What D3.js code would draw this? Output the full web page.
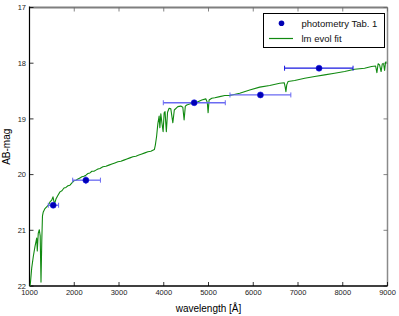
<!DOCTYPE html>
<html>
<head>
<meta charset="utf-8">
<script src="https://cdn.jsdelivr.net/npm/d3@7"></script>
<style>
  body { margin: 0; background: #fff; }
  svg { display: block; font-family: "Liberation Sans", Arial, sans-serif; }
</style>
</head>
<body>
<div class="chart"></div>
<script>
// model spectrum
var specWave = [1000, 1022, 1049, 1085, 1123, 1161, 1174, 1196, 1219, 1239, 1257, 1275, 1290, 1308, 1346,
  1420, 1458, 1496, 1525, 1558, 1591, 1636, 1681, 1725, 1770, 1815, 1859, 1904, 1949, 1993, 2038, 2083,
  2127, 2172, 2216, 2261, 2306, 2350, 2395, 2440, 2484, 2529, 2574, 2641, 2708, 2774, 2841, 2908, 2975,
  3042, 3109, 3176, 3243, 3310, 3377, 3444, 3511, 3578, 3645, 3712, 3790, 3812, 3839, 3868, 3897, 3913,
  3935, 3957, 3986, 4009, 4029, 4058, 4085, 4120, 4158, 4203, 4236, 4315, 4381, 4426, 4455, 4482, 4515,
  4627, 4739, 4850, 4939, 4973, 4991, 5013, 5073, 5140, 5252, 5364, 5475, 5698, 5921, 6145, 6368, 6591,
  6692, 6714, 6730, 6748, 6777, 6926, 7150, 7372, 7595, 7818, 8042, 8265, 8488, 8644, 8734, 8763, 8790,
  8823, 8857, 8884, 8913, 8935, 8957, 8980];
var specMag = [22.07, 21.93, 21.68, 21.47, 21.29, 21.14, 21.37, 21.05, 20.99, 21.10, 21.93, 21.17, 20.74, 20.67, 20.61,
  20.55, 20.49, 20.46, 20.40, 20.53, 20.44, 20.37, 20.31, 20.29, 20.24, 20.23, 20.20, 20.19, 20.15, 20.11, 20.10, 20.08,
  20.06, 20.04, 20.03, 20.01, 19.98, 19.97, 19.94, 19.94, 19.92, 19.90, 19.89, 19.86, 19.85, 19.83, 19.81, 19.79, 19.77,
  19.76, 19.74, 19.72, 19.70, 19.68, 19.67, 19.65, 19.63, 19.61, 19.59, 19.58, 19.55, 19.47, 19.32, 19.09, 18.95, 19.16,
  18.91, 19.06, 19.23, 18.89, 18.87, 19.23, 18.88, 18.81, 18.82, 19.07, 18.84, 18.78, 18.77, 18.79, 19.02, 18.77, 18.75,
  18.72, 18.70, 18.66, 18.64, 18.70, 18.89, 18.66, 18.63, 18.62, 18.60, 18.58, 18.58, 18.54, 18.48, 18.43, 18.40, 18.36,
  18.35, 18.43, 18.51, 18.39, 18.33, 18.31, 18.27, 18.24, 18.21, 18.18, 18.15, 18.11, 18.09, 18.06, 18.05, 18.17, 18.01,
  18.03, 18.15, 18.01, 18.01, 18.13, 17.98, 17.98];

// photometry points
var photWave = [1530, 2260, 4680, 6160, 7470];
var photMag = [20.55, 20.10, 18.71, 18.57, 18.09];
var photWaveLo = [1420, 1965, 3990, 5480, 6700];
var photWaveHi = [1650, 2585, 5375, 6840, 8230];
var photMagErr = [0.05, 0.07, 0.02, 0.02, 0.02];

var xTicks = [1000, 2000, 3000, 4000, 5000, 6000, 7000, 8000, 9000];
var yTicks = [17, 18, 19, 20, 21, 22];
var legendLabels = ["photometry Tab. 1", "lm evol fit"];

var width = 399, height = 316;
var x = d3.scaleLinear().domain([1000, 9000]).range([29.5, 387.5]);
var y = d3.scaleLinear().domain([17, 22]).range([7.5, 286]);

var svg = d3.select(".chart").append("svg")
  .attr("width", width)
  .attr("height", height);

svg.append("defs").append("clipPath").attr("id", "plotclip")
  .append("rect")
  .attr("x", x(1000)).attr("y", y(17))
  .attr("width", x(9000) - x(1000)).attr("height", y(22) - y(17));

// box: top/right gray, left/bottom black
svg.append("line").attr("x1", x(1000)).attr("x2", x(9000)).attr("y1", y(17)).attr("y2", y(17))
  .attr("stroke", "#7f7f7f").attr("stroke-width", 2);
svg.append("line").attr("x1", x(9000)).attr("x2", x(9000)).attr("y1", y(17)).attr("y2", y(22))
  .attr("stroke", "#8a8a8a").attr("stroke-width", 1.5);

var tickLen = 4;
var grid = svg.append("g");
xTicks.forEach(function(t) {
  grid.append("line").attr("x1", x(t)).attr("x2", x(t)).attr("y1", y(22)).attr("y2", y(22) - tickLen)
    .attr("stroke", "#000").attr("stroke-width", 0.8);
  grid.append("line").attr("x1", x(t)).attr("x2", x(t)).attr("y1", y(17)).attr("y2", y(17) + tickLen)
    .attr("stroke", "#666").attr("stroke-width", 0.8);
});
yTicks.forEach(function(t) {
  grid.append("line").attr("x1", x(1000)).attr("x2", x(1000) + tickLen).attr("y1", y(t)).attr("y2", y(t))
    .attr("stroke", "#000").attr("stroke-width", 0.8);
  grid.append("line").attr("x1", x(9000)).attr("x2", x(9000) - tickLen).attr("y1", y(t)).attr("y2", y(t))
    .attr("stroke", "#666").attr("stroke-width", 0.8);
});

svg.append("line").attr("x1", x(1000)).attr("x2", x(1000)).attr("y1", y(17) - 1).attr("y2", y(22))
  .attr("stroke", "#000").attr("stroke-width", 1.2);
svg.append("line").attr("x1", x(1000)).attr("x2", x(9000)).attr("y1", y(22)).attr("y2", y(22))
  .attr("stroke", "#000").attr("stroke-width", 1.4);

// tick labels
svg.append("g").selectAll("text").data(xTicks).enter().append("text")
  .attr("x", function(d) { return x(d); })
  .attr("y", 295)
  .attr("text-anchor", "middle")
  .attr("font-size", "7.5px")
  .attr("fill", "#222")
  .text(function(d) { return d; });

svg.append("g").selectAll("text").data(yTicks).enter().append("text")
  .attr("x", 26)
  .attr("y", function(d) { return y(d) + 2.7; })
  .attr("text-anchor", "end")
  .attr("font-size", "7.5px")
  .attr("fill", "#222")
  .text(function(d) { return d; });

svg.append("text")
  .attr("x", (x(1000) + x(9000)) / 2)
  .attr("y", 312)
  .attr("text-anchor", "middle")
  .attr("font-size", "10px")
  .text("wavelength [Å]");

svg.append("text")
  .attr("transform", "translate(10," + ((y(17) + y(22)) / 2) + ") rotate(-90)")
  .attr("text-anchor", "middle")
  .attr("font-size", "10px")
  .text("AB-mag");

// spectrum
var spec = specWave.map(function(w, i) { return [w, specMag[i]]; });
var line = d3.line()
  .x(function(d) { return x(d[0]); })
  .y(function(d) { return y(d[1]); });

svg.append("path")
  .datum(spec)
  .attr("clip-path", "url(#plotclip)")
  .attr("d", line)
  .attr("fill", "none")
  .attr("stroke", "#118a11")
  .attr("stroke-width", 1.1)
  .attr("stroke-linejoin", "round");

// photometry with error bars
var phot = photWave.map(function(w, i) {
  return { w: w, m: photMag[i], lo: photWaveLo[i], hi: photWaveHi[i], e: photMagErr[i], i: i };
});
var errColor = function(d) { return d.i == phot.length - 1 ? "#1818e0" : "#6a6af2"; };

var eb = svg.append("g").selectAll("g").data(phot).enter().append("g");
eb.append("line")
  .attr("x1", function(d) { return x(d.lo); })
  .attr("x2", function(d) { return x(d.hi); })
  .attr("y1", function(d) { return y(d.m); })
  .attr("y2", function(d) { return y(d.m); })
  .attr("stroke", errColor).attr("stroke-width", 1.3);
eb.append("line")
  .attr("x1", function(d) { return x(d.lo); })
  .attr("x2", function(d) { return x(d.lo); })
  .attr("y1", function(d) { return y(d.m) - 2.5; })
  .attr("y2", function(d) { return y(d.m) + 2.5; })
  .attr("stroke", errColor).attr("stroke-width", 1);
eb.append("line")
  .attr("x1", function(d) { return x(d.hi); })
  .attr("x2", function(d) { return x(d.hi); })
  .attr("y1", function(d) { return y(d.m) - 2.5; })
  .attr("y2", function(d) { return y(d.m) + 2.5; })
  .attr("stroke", errColor).attr("stroke-width", 1);
eb.append("line")
  .attr("x1", function(d) { return x(d.w); })
  .attr("x2", function(d) { return x(d.w); })
  .attr("y1", function(d) { return y(d.m - d.e); })
  .attr("y2", function(d) { return y(d.m + d.e); })
  .attr("stroke", errColor).attr("stroke-width", 1);
eb.append("circle")
  .attr("cx", function(d) { return x(d.w); })
  .attr("cy", function(d) { return y(d.m); })
  .attr("r", 3)
  .attr("fill", "#0000b4")
  .attr("stroke", "#1010e8")
  .attr("stroke-width", 0.6);

// legend
var lg = svg.append("g");
lg.append("rect").attr("x", 263.5).attr("y", 13.5).attr("width", 121).attr("height", 34)
  .attr("fill", "#fff").attr("stroke", "#000").attr("stroke-width", 1);
lg.append("circle").attr("cx", 281.5).attr("cy", 23.3).attr("r", 2.8).attr("fill", "#0000b4");
lg.append("line").attr("x1", 269).attr("x2", 293).attr("y1", 38.5).attr("y2", 38.5)
  .attr("stroke", "#118a11").attr("stroke-width", 1.2);
lg.selectAll("text").data(legendLabels).enter().append("text")
  .attr("x", 301.5)
  .attr("y", function(d, i) { return 26.5 + i * 15; })
  .attr("font-size", "9.5px")
  .attr("fill", "#111")
  .text(function(d) { return d; });
</script>
</body>
</html>
